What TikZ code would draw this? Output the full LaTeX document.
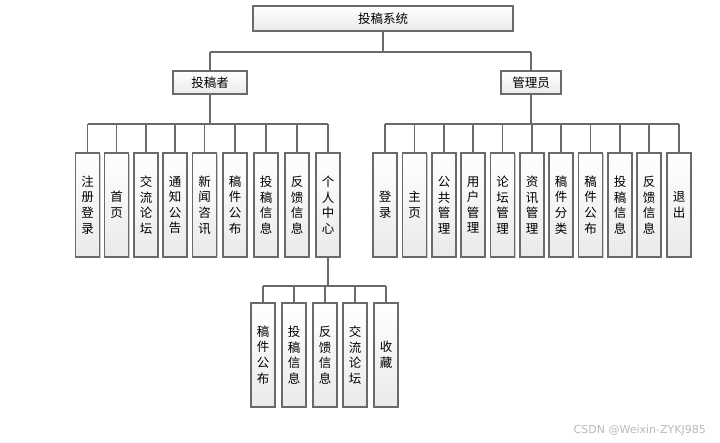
\documentclass[tikz,border=0pt]{standalone}
\usepackage{fontspec}
\newfontfamily\cjk{Noto Sans CJK SC}
\newfontfamily\wmfont{DejaVu Sans}
\usetikzlibrary{shadows}
\definecolor{edgegray}{HTML}{6A6A6A}
\definecolor{linegray}{HTML}{6A6A6A}
\definecolor{boxbottom}{HTML}{EAEAEA}
\tikzset{
  box/.style={draw=edgegray, line width=1.2pt, top color=white, bottom color=boxbottom,
    inner sep=0pt, font=\cjk\fontsize{12.5}{15.6}\selectfont, align=center,
    drop shadow={shadow xshift=1.2pt, shadow yshift=-1.2pt, opacity=0.2, fill=black}},
  vbox/.style={box, minimum width=24pt, minimum height=104pt},
  conn/.style={draw=linegray, line width=1.1pt},
}
\begin{document}
\begin{tikzpicture}[x=1pt,y=-1pt]
\useasboundingbox (0,0) rectangle (720,443);
% top
\node[box, minimum width=260pt, minimum height=25pt] (top) at (383,18.5) {投稿系统};
\node[box, minimum width=74pt, minimum height=23pt] (tg) at (210,82.5) {投稿者};
\node[box, minimum width=60pt, minimum height=23pt] (gl) at (531,82.5) {管理员};
% left children
\node[vbox] (l1) at (87.5,205) {注\\册\\登\\录};
\node[vbox] (l2) at (116.5,205) {首\\页};
\node[vbox] (l3) at (146,205) {交\\流\\论\\坛};
\node[vbox] (l4) at (175,205) {通\\知\\公\\告};
\node[vbox] (l5) at (204.5,205) {新\\闻\\咨\\讯};
\node[vbox] (l6) at (235,205) {稿\\件\\公\\布};
\node[vbox] (l7) at (266,205) {投\\稿\\信\\息};
\node[vbox] (l8) at (297,205) {反\\馈\\信\\息};
\node[vbox] (l9) at (328,205) {个\\人\\中\\心};
% right children
\node[vbox] (r1) at (385,205) {登\\录};
\node[vbox] (r2) at (414.5,205) {主\\页};
\node[vbox] (r3) at (444,205) {公\\共\\管\\理};
\node[vbox] (r4) at (473,205) {用\\户\\管\\理};
\node[vbox] (r5) at (502.5,205) {论\\坛\\管\\理};
\node[vbox] (r6) at (532,205) {资\\讯\\管\\理};
\node[vbox] (r7) at (561,205) {稿\\件\\分\\类};
\node[vbox] (r8) at (590.5,205) {稿\\件\\公\\布};
\node[vbox] (r9) at (620,205) {投\\稿\\信\\息};
\node[vbox] (r10) at (649,205) {反\\馈\\信\\息};
\node[vbox] (r11) at (679,205) {退\\出};
% personal center children
\node[vbox] (p1) at (263,355) {稿\\件\\公\\布};
\node[vbox] (p2) at (294,355) {投\\稿\\信\\息};
\node[vbox] (p3) at (325,355) {反\\馈\\信\\息};
\node[vbox] (p4) at (355,355) {交\\流\\论\\坛};
\node[vbox] (p5) at (386,355) {收\\藏};
% buses
\coordinate (b0) at (0,52);
\coordinate (bl) at (0,124);
\coordinate (br) at (0,124);
\coordinate (bp) at (0,286);
\draw[conn] (top.south) -- (top.south |- b0);
\draw[conn] (tg.north |- b0) -- (gl.north |- b0);
\draw[conn] (tg.north) -- (tg.north |- b0);
\draw[conn] (gl.north) -- (gl.north |- b0);
% left bus
\draw[conn] (tg.south) -- (tg.south |- bl);
\draw[conn] (l1.north |- bl) -- (l9.north |- bl);
\foreach \n in {l1,l2,l3,l4,l5,l6,l7,l8,l9} \draw[conn] (\n.north) -- (\n.north |- bl);
% right bus
\draw[conn] (gl.south) -- (gl.south |- br);
\draw[conn] (r1.north |- br) -- (r11.north |- br);
\foreach \n in {r1,r2,r3,r4,r5,r6,r7,r8,r9,r10,r11} \draw[conn] (\n.north) -- (\n.north |- br);
% personal bus
\draw[conn] (l9.south) -- (l9.south |- bp);
\draw[conn] (p1.north |- bp) -- (p5.north |- bp);
\foreach \n in {p1,p2,p3,p4,p5} \draw[conn] (\n.north) -- (\n.north |- bp);
% watermark
\node[anchor=east, text=gray!55, font=\wmfont\fontsize{11}{13}\selectfont, inner sep=0pt] (wm) at (706,430) {CSDN @Weixin-ZYKJ985};
\end{tikzpicture}
\end{document}
